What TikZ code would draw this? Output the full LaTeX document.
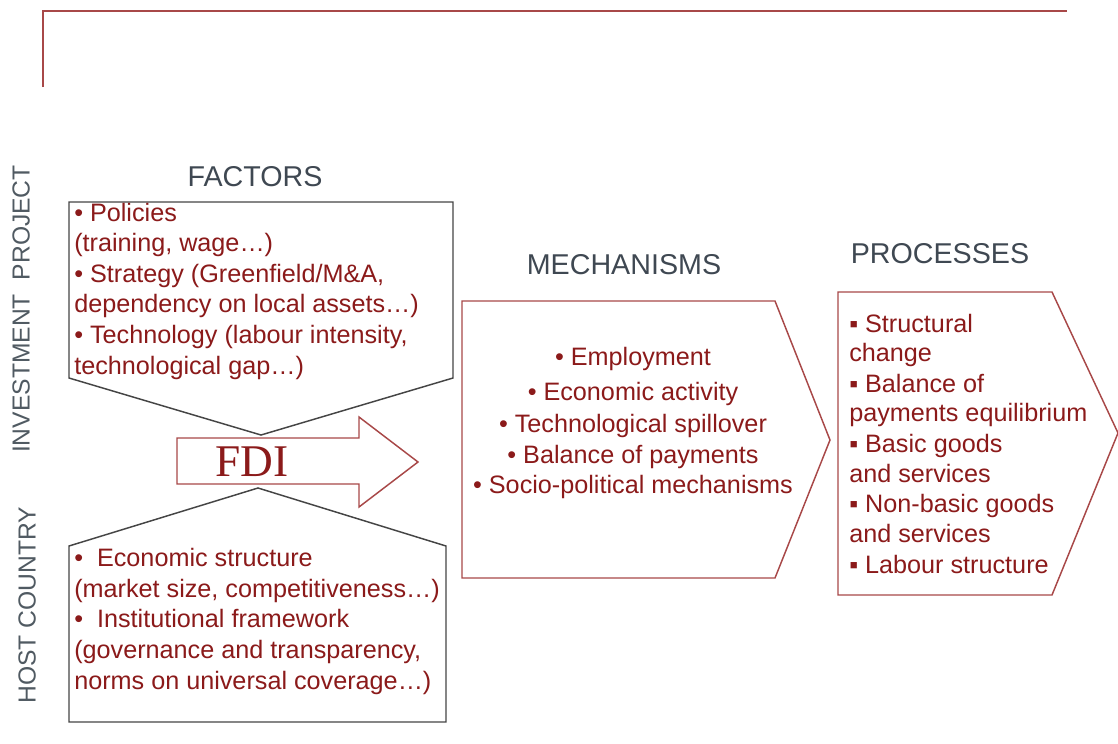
\documentclass[tikz,border=0pt]{standalone}
\usepackage{fontspec}
\setmainfont{Liberation Sans}
\newfontfamily\serifft{Liberation Serif}
\definecolor{txtred}{HTML}{8B1A1A}
\definecolor{boxred}{HTML}{A84848}
\definecolor{boxgray}{HTML}{454545}
\definecolor{headc}{HTML}{3F4852}
\definecolor{sidec}{HTML}{505A62}
\begin{document}
\begin{tikzpicture}[x=0.75pt,y=-0.75pt,
  item/.style={anchor=mid west,inner sep=0pt,text=txtred,font=\fontsize{18.9}{20}\selectfont},
  citem/.style={anchor=mid,inner sep=0pt,text=txtred,font=\fontsize{18.9}{20}\selectfont},
  head/.style={anchor=mid,inner sep=0pt,text=headc,font=\fontsize{21.5}{23}\selectfont},
  side/.style={anchor=mid,inner sep=0pt,text=sidec,rotate=90,font=\fontsize{18.5}{20}\selectfont},
  graybox/.style={draw=boxgray,line width=1.1pt},
  redbox/.style={draw=boxred,line width=1.1pt}]
\useasboundingbox (0,0) rectangle (1118,743);
% top frame
\draw[boxred,line width=1.8pt] (43,87) -- (43,11) -- (1067,11);
% side labels
\node[side] (sideA) at (26,309) {INVESTMENT\ \ PROJECT};
\node[side] (sideB) at (32,605) {HOST COUNTRY};
% headings
\node[head] (hF) at (255,183) {FACTORS};
\node[head] (hM) at (624,271) {MECHANISMS};
\node[head] (hP) at (940,260) {PROCESSES};
% factors box
\draw[graybox,fill=white] (69,202) -- (453,202) -- (453,378) -- (261,435) -- (69,378) -- cycle;
% FDI arrow
\draw[boxred,line width=1.1pt,fill=white] (177,438) -- (359,438) -- (359,417) -- (418,462) -- (359,507) -- (359,484) -- (177,484) -- cycle;
\node[inner sep=0pt,text=txtred,font=\serifft\fontsize{34}{36}\selectfont] (fdi) at (252,462) {FDI};
% host box
\draw[graybox,fill=white] (69,722) -- (446,722) -- (446,546) -- (258,488) -- (69,546) -- cycle;
% mechanisms box
\draw[redbox] (462,301) -- (775,301) -- (830,440) -- (775,578) -- (462,578) -- cycle;
% processes box
\draw[redbox] (838,292) -- (1052,292) -- (1118,433) -- (1052,595) -- (838,595) -- cycle;
% factors text
\node[item] (f1) at (74,218) {• Policies};
\node[item] (f2) at (74,248) {(training, wage…)};
\node[item] (f3) at (74,279) {• Strategy (Greenfield/M\&A,};
\node[item] (f4) at (74,309) {dependency on local assets…)};
\node[item] (f5) at (74,340) {• Technology (labour intensity,};
\node[item] (f6) at (74,371) {technological gap…)};
% host text
\node[item] (h1) at (74,563) {•\ \ Economic structure};
\node[item] (h2) at (74,594) {(market size, competitiveness…)};
\node[item] (h3) at (74,624) {•\ \ Institutional framework};
\node[item] (h4) at (74,655) {(governance and transparency,};
\node[item] (h5) at (74,686) {norms on universal coverage…)};
% mechanisms text
\node[citem] (m1) at (633,362) {• Employment};
\node[citem] (m2) at (633,397) {• Economic activity};
\node[citem] (m3) at (633,429) {• Technological spillover};
\node[citem] (m4) at (633,460) {• Balance of payments};
\node[citem] (m5) at (633,490) {• Socio-political mechanisms};
% processes text
\node[item] (p1) at (849,329) {▪ Structural};
\node[item] (p2) at (849,358) {change};
\node[item] (p3) at (849,389) {▪ Balance of};
\node[item] (p4) at (849,418) {payments equilibrium};
\node[item] (p5) at (849,449) {▪ Basic goods};
\node[item] (p6) at (849,479) {and services};
\node[item] (p7) at (849,509) {▪ Non-basic goods};
\node[item] (p8) at (849,539) {and services};
\node[item] (p9) at (849,570) {▪ Labour structure};
\end{tikzpicture}
\end{document}
